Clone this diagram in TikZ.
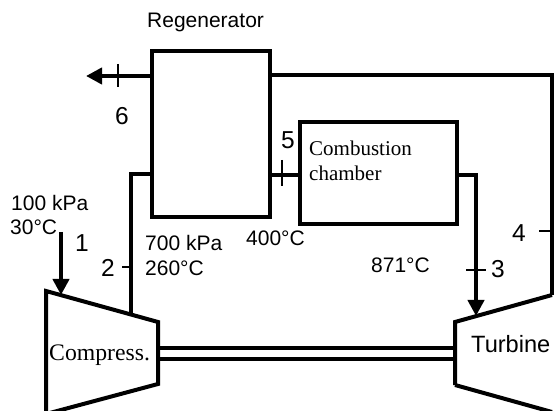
\documentclass[tikz,border=0pt]{standalone}
\usepackage{fontspec}
\setmainfont{Liberation Serif}
\setsansfont{Liberation Sans}
\usetikzlibrary{arrows.meta,positioning,calc}

\begin{document}
\begin{tikzpicture}[
		x=1pt,y=-1pt,
		>={Triangle[length=16pt,width=16pt]},
		unitbox/.style={draw, line width=4pt, outer sep=0pt, inner sep=0pt, miter limit=10},
		pipe/.style={line width=4pt},
		tickmark/.style={line width=1.3pt},
		lab/.style={anchor=base west, inner sep=0pt, font=\sffamily\fontsize{21}{21}\selectfont},
		statenum/.style={anchor=base west, inner sep=0pt, font=\sffamily\fontsize{24.5}{24.5}\selectfont},
		serifname/.style={anchor=base west, inner sep=0pt, font=\rmfamily\fontsize{21}{21}\selectfont}
		]
		
		\useasboundingbox (0,0) rectangle (554,411);
		\clip (0,0) rectangle (554,411);
		
		% Boxes
		\node[unitbox, minimum width=118pt, minimum height=166pt] (regen) at (211,134) {};
		\node[unitbox, minimum width=157pt, minimum height=102pt] (comb) at (378.5,173) {};
		
		% Compressor and turbine
		\coordinate (compA) at (46,291);
		\coordinate (compB) at (158,322);
		\coordinate (compC) at (158,384);
		\coordinate (compD) at (46,414);
		\coordinate (turbA) at (455,322);
		\coordinate (turbB) at (552,295);
		\coordinate (turbC) at (552,412);
		\coordinate (turbD) at (455,385);
		\draw[pipe] (compA) -- (compB) -- (compC) -- (compD) -- cycle;
		\draw[pipe] (turbD) -- (turbA) -- (turbB);
		\draw[pipe] (turbD) -- (turbC);
		
		% Shaft
		\coordinate (shaftA) at (158,348);
		\coordinate (shaftB) at (455,348);
		\coordinate (shaftC) at (158,359);
		\coordinate (shaftD) at (455,359);
		\draw[pipe] (shaftA) -- (shaftB);
		\draw[pipe] (shaftC) -- (shaftD);
		
		% Connectors
		\coordinate (in1) at (61,232);
		\coordinate (tip1) at (61,295);
		\coordinate (out6) at (86,76);
		\coordinate (regenW) at (152,76);
		\coordinate (regenE) at (270,75);
		\coordinate (regenIn) at (152,174);
		\coordinate (regenOut) at (270,175);
		\coordinate (combIn) at (300,175);
		\coordinate (combOut) at (457,175);
		\coordinate (comp2) at (131,314);
		\coordinate (tip3) at (476,316);
		
		\draw[->, pipe] (in1) -- (tip1);
		\draw[->, pipe] (regenW) -- (out6);
		\draw[pipe] (comp2) |- (regenIn);
		\draw[pipe] (regenOut) -- (combIn);
		\draw[->, pipe] (combOut) -| (tip3);
		\draw[pipe] (regenE) -| (turbB);
		
		% Ticks at the states
		\foreach \xa/\ya/\xb/\yb in {118/64/118/87, 282/160/282/186, 122/267/133/267, 466/270/486/270, 539/231/552/231}{
			\draw[tickmark] (\xa,\ya) -- (\xb,\yb);
		}
		
		% Text
		\node[lab] (regenlab) at (147,28) {Regenerator};
		\node[lab] (p1) at (11,211) {100 kPa};
		\node[lab] (t1) at (10,235) {30°C};
		\node[lab] (p2) at (145,251) {700 kPa};
		\node[lab] (t2) at (145,276) {260°C};
		\node[lab] (t5) at (246,246) {400°C};
		\node[lab] (t3) at (371,273) {871°C};
		\node[serifname] (comblab) at (309,156) {Combustion};
		\node[serifname] (comblabb) at (309,181) {chamber};
		\node[serifname, font=\rmfamily\fontsize{23.7}{23.7}\selectfont] (complab) at (49,360) {Compress.};
		\node[lab, font=\sffamily\fontsize{23.6}{23.6}\selectfont] (turblab) at (471,353) {Turbine};
		\foreach \n/\x/\y in {1/75/252, 2/101/277, 3/491/278, 4/512/242, 5/281/149, 6/115/125}{
			\node[statenum] (state\n) at (\x,\y) {\n};
		}
		
	\end{tikzpicture}
\end{document}
